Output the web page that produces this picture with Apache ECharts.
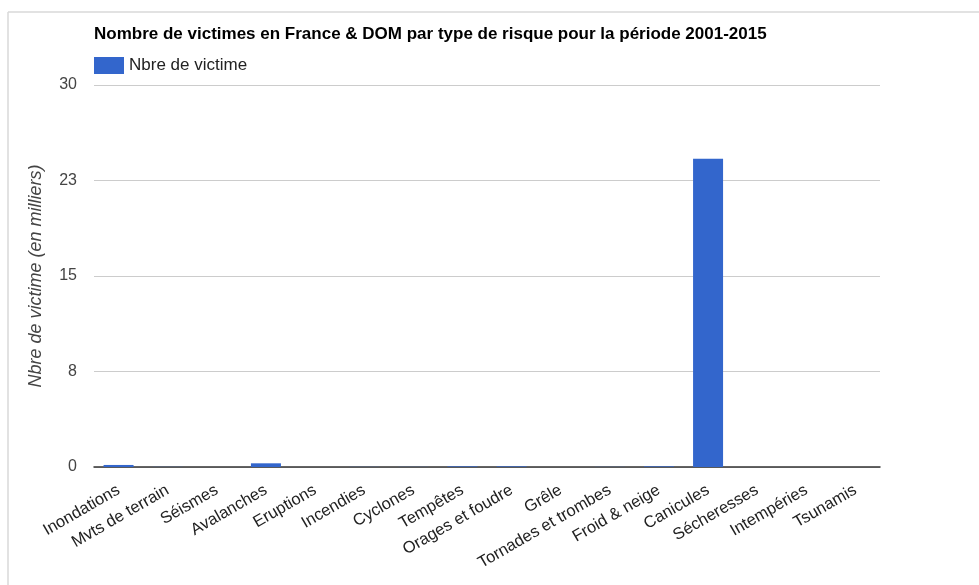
<!DOCTYPE html>
<html>
<head>
<meta charset="utf-8">
<script src="https://cdn.jsdelivr.net/npm/echarts@6/dist/echarts.min.js"></script>
<style>
html,body{margin:0;padding:0;background:#fff;}
#main{width:979px;height:585px;}
</style>
</head>
<body>
<div id="main"></div>
<script>
const titleText = "Nombre de victimes en France & DOM par type de risque pour la période 2001-2015";
const seriesName = "Nbre de victime";
const yAxisName = "Nbre de victime (en milliers)";
const categories = ["Inondations","Mvts de terrain","Séismes","Avalanches","Eruptions","Incendies","Cyclones","Tempêtes","Orages et foudre","Grêle","Tornades et trombes","Froid & neige","Canicules","Sécheresses","Intempéries","Tsunamis"];
const values = [0.16, 0.01, 0.0, 0.29, 0.0, 0.01, 0.01, 0.05, 0.05, 0.0, 0.01, 0.05, 24.2, 0.0, 0.0, 0.0];
const yTicks = [0, 7.5, 15, 22.5, 30];
const yTickLabels = ["0", "8", "15", "23", "30"];

const chart = echarts.init(document.getElementById('main'), null, {renderer: 'canvas'});
const font = 'Arial, "Liberation Sans", sans-serif';
chart.setOption({
  animation: false,
  backgroundColor: '#fff',
  textStyle: {fontFamily: font},
  title: {
    text: titleText,
    left: 89, top: 21,
    textStyle: {fontSize: 17, fontWeight: 'bold', color: '#000', fontFamily: font}
  },
  legend: {
    left: 89, top: 52,
    itemWidth: 30, itemHeight: 17, itemGap: 8,
    textStyle: {fontSize: 17, color: '#222', fontFamily: font},
    data: [{name: seriesName, icon: 'rect'}]
  },
  grid: {left: 94, right: 99, top: 85, bottom: 118, containLabel: false},
  graphic: [
    {type: 'line', shape: {x1: 8, y1: 12, x2: 979, y2: 12}, style: {stroke: '#d9d9d9', lineWidth: 1.5}},
    {type: 'line', shape: {x1: 8, y1: 12, x2: 8, y2: 585}, style: {stroke: '#d9d9d9', lineWidth: 1.5}}
  ],
  xAxis: {
    type: 'category',
    data: categories,
    axisLine: {show: true, lineStyle: {color: '#333', width: 1.5}},
    axisTick: {show: false},
    axisLabel: {rotate: 30, interval: 0, fontSize: 16.5, color: '#222', margin: 22, fontFamily: font}
  },
  yAxis: {
    type: 'value',
    min: yTicks[0], max: yTicks[yTicks.length - 1], interval: yTicks[1] - yTicks[0],
    name: yAxisName,
    nameLocation: 'middle',
    nameGap: 49,
    nameTextStyle: {fontSize: 18, fontStyle: 'italic', color: '#444', fontFamily: font},
    axisLine: {show: false},
    axisTick: {show: false},
    splitLine: {lineStyle: {color: '#cccccc', width: 1}},
    axisLabel: {
      fontSize: 16, color: '#444', margin: 17, fontFamily: font,
      formatter: function (v) { const i = yTicks.indexOf(v); return i >= 0 ? yTickLabels[i] : ''; }
    }
  },
  series: [{
    name: seriesName,
    type: 'bar',
    data: values,
    barWidth: 30,
    itemStyle: {color: '#3366cc'}
  }]
});
</script>
</body>
</html>
